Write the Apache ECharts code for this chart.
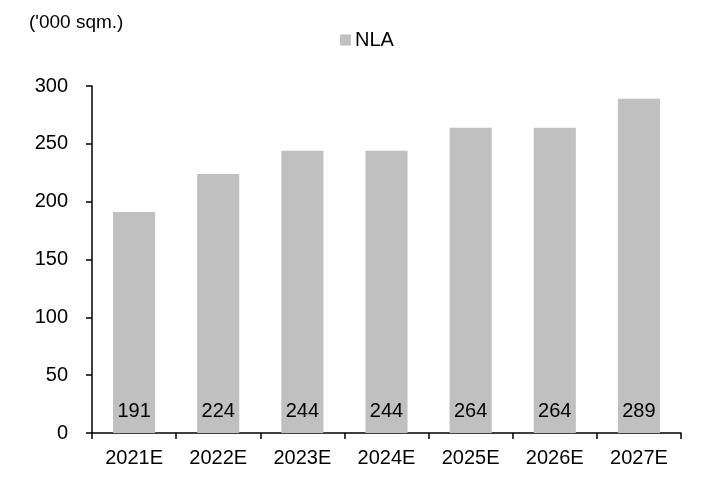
<!DOCTYPE html>
<html>
<head>
<meta charset="utf-8">
<script src="https://cdn.jsdelivr.net/npm/echarts@6/dist/echarts.min.js"></script>
<style>
  html, body { margin: 0; padding: 0; background: #fff; }
  #chart { width: 726px; height: 479px; }
</style>
</head>
<body>
<div id="chart"></div>
<script>
// Net lettable area forecast by year
const categories = ['2021E', '2022E', '2023E', '2024E', '2025E', '2026E', '2027E'];
const nlaValues = [191, 224, 244, 244, 264, 264, 289];
const yTicks = { min: 0, max: 300, interval: 50 };

const font = '"Liberation Sans", Arial, sans-serif';
const chart = echarts.init(document.getElementById('chart'));

chart.setOption({
  animation: false,
  textStyle: { fontFamily: font },
  title: {
    text: "('000 sqm.)",
    left: 24,
    top: 8,
    textStyle: { fontFamily: font, fontSize: 19, fontWeight: 'normal', color: '#000' }
  },
  legend: {
    data: ['NLA'],
    left: 335,
    top: 25,
    icon: 'rect',
    itemWidth: 11,
    itemHeight: 11,
    itemGap: 4,
    textStyle: { fontFamily: font, fontSize: 20, color: '#000', padding: [0, 0, 0, -1] }
  },
  grid: { left: 92, right: 45, top: 86, bottom: 46, containLabel: false },
  xAxis: {
    type: 'category',
    data: categories,
    axisLine: { show: true, lineStyle: { color: '#000', width: 1.5 } },
    axisTick: { show: true, length: 6, lineStyle: { color: '#000', width: 1.5 } },
    axisLabel: { color: '#000', fontSize: 20, fontFamily: font, margin: 15 },
    splitLine: { show: false }
  },
  yAxis: {
    type: 'value',
    min: yTicks.min,
    max: yTicks.max,
    interval: yTicks.interval,
    axisLine: { show: true, lineStyle: { color: '#000', width: 1.5 } },
    axisTick: { show: true, length: 6, lineStyle: { color: '#000', width: 1.5 } },
    axisLabel: { color: '#000', fontSize: 20, fontFamily: font, margin: 24 },
    splitLine: { show: false }
  },
  series: [{
    name: 'NLA',
    type: 'bar',
    data: nlaValues,
    barWidth: '50%',
    itemStyle: { color: '#c0c0c0' },
    label: {
      show: true,
      position: 'insideBottom',
      distance: 12,
      color: '#000',
      fontSize: 20,
      fontFamily: font
    }
  }]
});
</script>
</body>
</html>
